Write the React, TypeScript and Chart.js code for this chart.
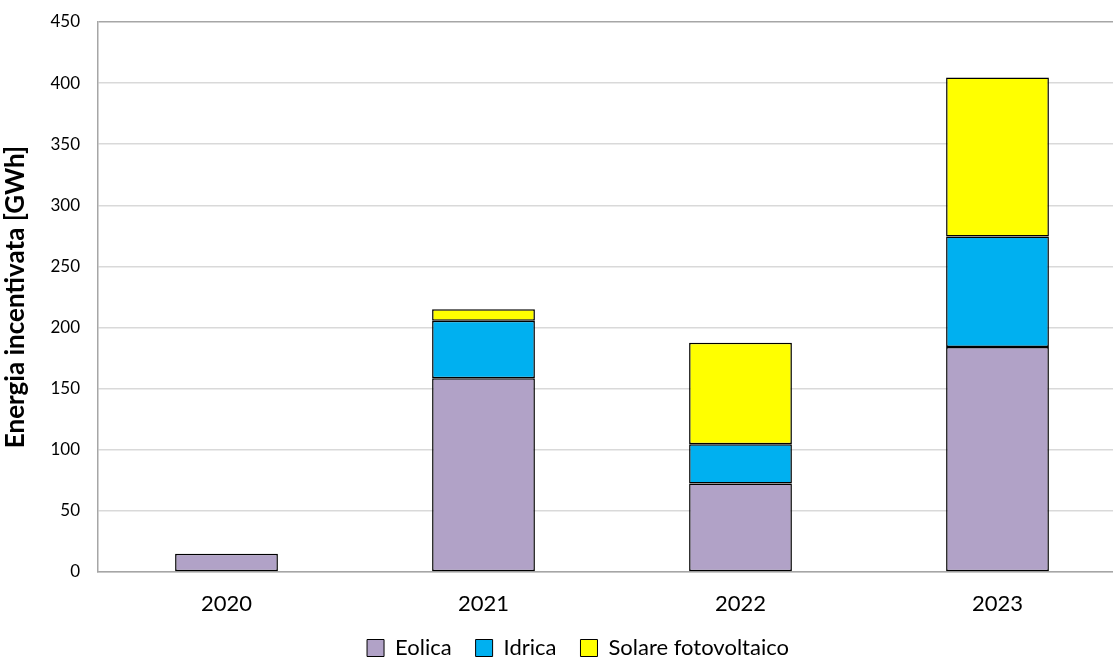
import React, { useEffect, useRef } from "react";
import { Chart, registerables } from "chart.js";

Chart.register(...registerables);

const categories = ["2020", "2021", "2022", "2023"];
const eolica = [15, 158.5, 72.5, 184];
const idrica = [0, 47, 32, 90.5];
const solare = [0, 9.5, 83, 130];
const yTicks = [0, 50, 100, 150, 200, 250, 300, 350, 400, 450];

const FONT = "Lato, 'Open Sans', sans-serif";

export default function App() {
  const ref = useRef<HTMLCanvasElement | null>(null);
  useEffect(() => {
    if (!ref.current) return;
    const chart = new Chart(ref.current, {
      type: "bar",
      data: {
        labels: categories,
        datasets: [
          { label: "Eolica", data: eolica, backgroundColor: "#b1a2c7", borderColor: "#000", borderWidth: 1.5, borderSkipped: false },
          { label: "Idrica", data: idrica, backgroundColor: "#00b0f0", borderColor: "#000", borderWidth: 1.5, borderSkipped: false },
          { label: "Solare fotovoltaico", data: solare, backgroundColor: "#ffff00", borderColor: "#000", borderWidth: 1.5, borderSkipped: false },
        ],
      },
      options: {
        animation: false,
        responsive: false,
        maintainAspectRatio: false,
        layout: { padding: { top: 22, right: 0, left: 0, bottom: 0 } },
        datasets: { bar: { categoryPercentage: 1, barPercentage: 0.4 } },
        plugins: {
          tooltip: { enabled: false },
          legend: {
            position: "bottom",
            labels: {
              font: { family: FONT, size: 22 },
              color: "#000",
              boxWidth: 17,
              boxHeight: 17,
              padding: 24,
              generateLabels: (c: any) =>
                c.data.datasets.map((d: any, i: number) => ({
                  text: d.label,
                  fillStyle: d.backgroundColor,
                  strokeStyle: "#000",
                  lineWidth: 1,
                  datasetIndex: i,
                  fontColor: "#000",
                })),
            },
          },
        },
        scales: {
          x: {
            stacked: true,
            grid: { display: false, drawTicks: false },
            border: { color: "#a6a6a6", width: 1.5 },
            ticks: { font: { family: FONT, size: 22 }, color: "#000", padding: 19 },
            afterFit: (s: any) => {
              s.height = 41;
            },
          },
          y: {
            stacked: true,
            min: 0,
            max: 450,
            afterBuildTicks: (s: any) => {
              s.ticks = yTicks.map((v) => ({ value: v }));
            },
            afterFit: (s: any) => {
              s.width = 98;
              s.paddingTop = 0;
              s.paddingBottom = 0;
            },
            grid: {
              color: (ctx: any) => (ctx.tick && ctx.tick.value === 450 ? "#a6a6a6" : "#d9d9d9"),
              lineWidth: 1.5,
              drawTicks: false,
            },
            border: { color: "#a6a6a6", width: 1.5 },
            ticks: { font: { family: FONT, size: 17 }, color: "#000", padding: 18 },
            title: {
              display: true,
              text: "Energia incentivata [GWh]",
              font: { family: FONT, size: 26, weight: "bold" },
              color: "#000",
              padding: 0,
            },
          },
          yRight: {
            position: "right",
            display: true,
            min: 0,
            max: 450,
            grid: { display: false, drawTicks: false },
            border: { display: false },
            ticks: { display: false },
            afterFit: (s: any) => {
              s.width = 30;
              s.paddingTop = 0;
              s.paddingBottom = 0;
            },
          },
        },
      },
    });
    return () => chart.destroy();
  }, []);
  return (
    <div style={{ position: "fixed", left: 0, top: 0, width: 1113, height: 657, overflow: "hidden", background: "#fff" }}>
      <canvas ref={ref} width={1156} height={669} style={{ display: "block" }} />
    </div>
  );
}
